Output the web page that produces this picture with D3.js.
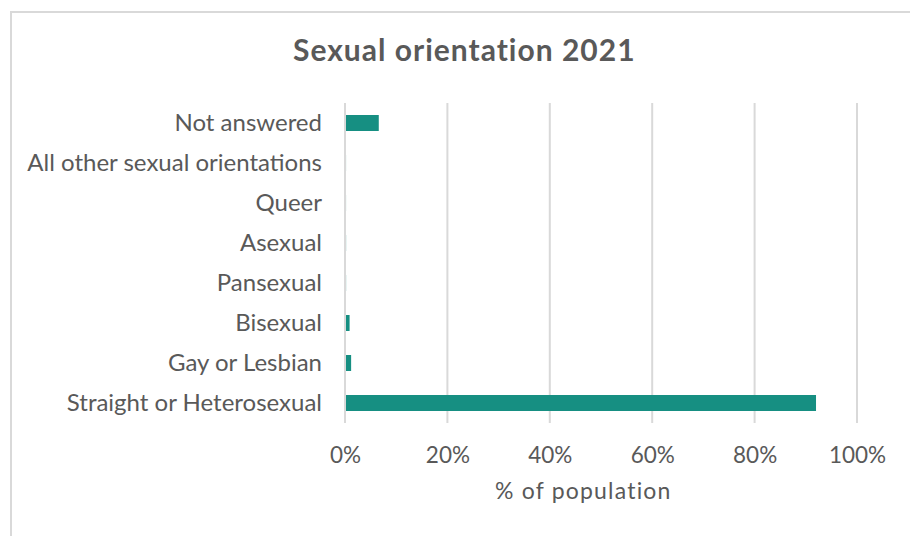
<!DOCTYPE html>
<html>
<head>
<meta charset="utf-8">
<script src="https://cdn.jsdelivr.net/npm/d3@7"></script>
<style>
  html, body { margin: 0; padding: 0; background: #fff; }
  svg { display: block; font-family: Lato, "Open Sans", sans-serif; }
</style>
</head>
<body>
<svg id="chart" width="910" height="536"></svg>
<script>
// Census 2021 sexual orientation, share of population (%)
const categories = [
  "Not answered",
  "All other sexual orientations",
  "Queer",
  "Asexual",
  "Pansexual",
  "Bisexual",
  "Gay or Lesbian",
  "Straight or Heterosexual"
];
const values = [6.4, 0.01, 0.01, 0.02, 0.02, 0.7, 1.0, 91.8];
const xTicks = [0, 20, 40, 60, 80, 100];

const svg = d3.select("#chart");
const textColor = "#595959";
const barColor = "#168f82";

// outer frame
svg.append("rect")
  .attr("x", 11).attr("y", 12)
  .attr("width", 920).attr("height", 540)
  .attr("fill", "#fff")
  .attr("stroke", "#d9d9d9")
  .attr("stroke-width", 2);

const plot = { left: 345, right: 857, top: 103, bottom: 423 };

const x = d3.scaleLinear().domain([0, 100]).range([plot.left, plot.right]);
const y = d3.scaleBand().domain(categories).range([plot.top, plot.bottom]).paddingInner(0.6).paddingOuter(0.3);

// vertical gridlines
svg.append("g").selectAll("line")
  .data(xTicks)
  .join("line")
  .attr("x1", d => x(d)).attr("x2", d => x(d))
  .attr("y1", plot.top).attr("y2", plot.bottom)
  .attr("stroke", "#d9d9d9")
  .attr("stroke-width", 2);

// bars
svg.append("g").selectAll("rect")
  .data(categories.map((c, i) => ({ c, v: values[i] })))
  .join("rect")
  .attr("x", x(0) + 1)
  .attr("y", d => y(d.c))
  .attr("width", d => Math.max(0, x(d.v) - x(0)))
  .attr("height", y.bandwidth())
  .attr("fill", barColor);

// category labels
const yAxis = svg.append("g")
  .attr("transform", `translate(${plot.left},0)`)
  .call(d3.axisLeft(y).tickSize(0).tickPadding(23));
yAxis.select(".domain").remove();
yAxis.selectAll("text")
  .attr("font-size", 24)
  .attr("font-family", "Lato, sans-serif")
  .attr("fill", textColor);

// x tick labels
const xAxis = svg.append("g")
  .attr("transform", `translate(0,${plot.bottom})`)
  .call(d3.axisBottom(x).tickValues(xTicks).tickSize(0).tickPadding(24).tickFormat(d => d + "%"));
xAxis.select(".domain").remove();
xAxis.selectAll("text")
  .attr("font-size", 22.5)
  .attr("font-family", "Lato, sans-serif")
  .attr("fill", textColor);

// axis title
svg.append("text")
  .attr("x", 495).attr("y", 499)
  .attr("text-anchor", "start")
  .attr("font-size", 23)
  .attr("letter-spacing", 1.2)
  .attr("fill", textColor)
  .text("% of population");

// chart title
svg.append("text")
  .attr("x", 293).attr("y", 61)
  .attr("text-anchor", "start")
  .attr("font-size", 30)
  .attr("letter-spacing", 1)
  .attr("font-weight", "bold")
  .attr("fill", textColor)
  .text("Sexual orientation 2021");
</script>
</body>
</html>
